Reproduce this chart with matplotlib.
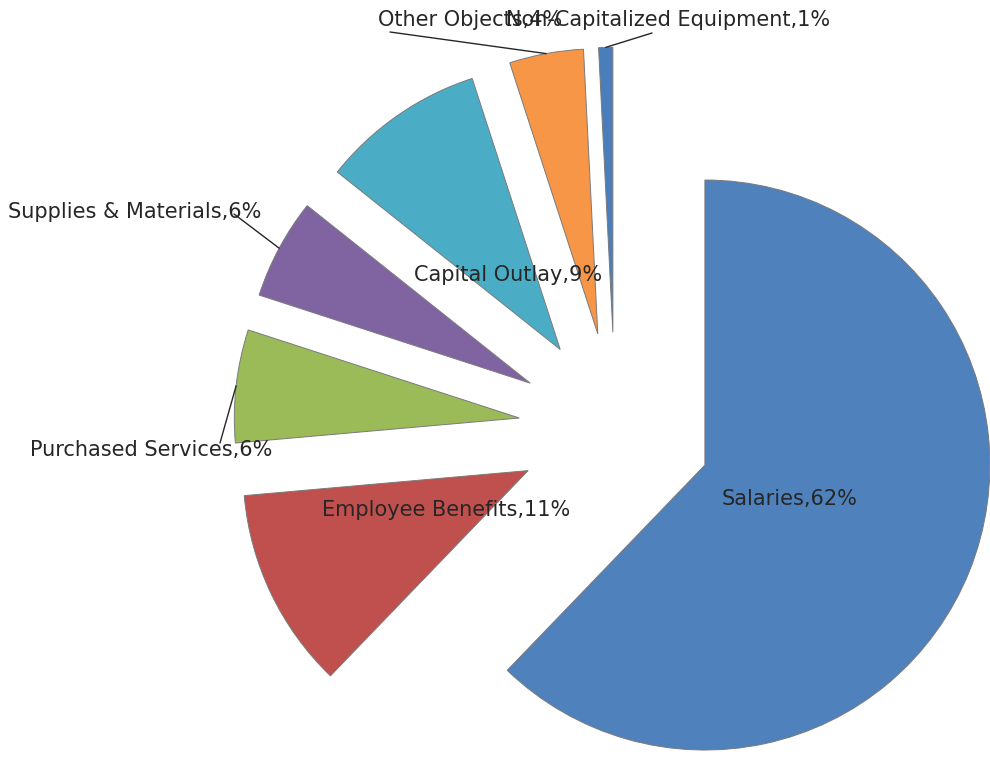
import matplotlib.pyplot as plt
import numpy as np

categories = ["Salaries", "Employee Benefits", "Purchased Services",
              "Supplies & Materials", "Capital Outlay", "Other Objects",
              "Non-Capitalized Equipment"]
shares = [62.2, 11.4, 6.4, 5.7, 9.3, 4.2, 0.8]
colors = ["#4F81BD", "#C0504D", "#9BBB59", "#8064A2", "#4BACC6", "#F79646", "#4A7EBB"]

W, H = 990, 757
R = 285.0                  # pie radius, px
CX, CY = 615.3, 428.9      # pie centre, image px (y down)


def px(x, y):
    return (x - CX) / R, (CY - y) / R


fig = plt.figure(figsize=(W / 100, H / 100), dpi=100)
ax = fig.add_axes([0, 0, 1, 1])
wedges, _ = ax.pie(shares, colors=colors, startangle=90, counterclock=False,
                   explode=[0.339] * len(shares),
                   wedgeprops=dict(edgecolor="#7a7a7a", linewidth=0.7))
ax.set_xlim(-CX / R, (W - CX) / R)
ax.set_ylim(-(H - CY) / R, CY / R)
ax.axis("off")

font = dict(family="DejaVu Sans", fontsize=15, color="#262626")
labels = [f"{c},{v:.0f}%" for c, v in zip(categories, shares)]

# labels inside the slice
for i in [0, 1, 4]:
    w = wedges[i]
    t = np.deg2rad((w.theta1 + w.theta2) / 2)
    x = w.center[0] + 0.32 * np.cos(t)
    y = w.center[1] + 0.32 * np.sin(t)
    ax.text(x, y, labels[i], ha="center", va="center", **font)

# labels outside with leader lines: (text anchor, ha, leader end)
# (Excel placed the two top labels on top of each other, kept as in the original)
outside = {
    2: ((30, 450), "left", (220, 443)),
    3: ((8, 212), "left", (234, 214)),
    5: ((378, 20), "left", (390, 32)),
    6: ((830, 20), "right", (652, 33)),
}
for i, (txt, ha, lead) in outside.items():
    w = wedges[i]
    t = np.deg2rad((w.theta1 + w.theta2) / 2)
    arc = (w.center[0] + np.cos(t), w.center[1] + np.sin(t))
    ax.annotate("", xy=arc, xytext=px(*lead),
                arrowprops=dict(arrowstyle="-", color="#262626", lw=1,
                                shrinkA=0, shrinkB=0))
    ax.text(*px(*txt), labels[i], ha=ha, va="center", **font)

plt.savefig("out.png", dpi=100)
